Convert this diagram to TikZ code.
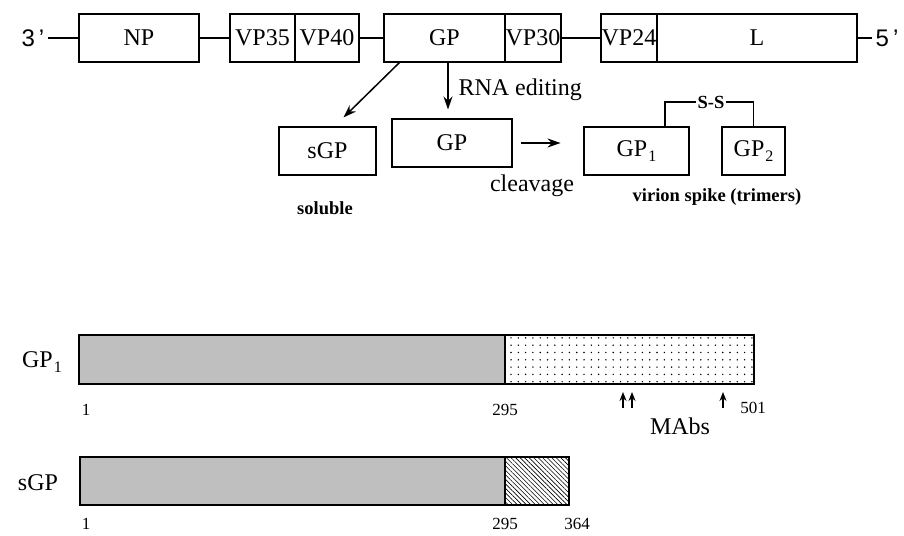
\documentclass[tikz,border=0pt]{standalone}
\usepackage{fontspec}
\setmainfont{Liberation Serif}
\newfontfamily\arialfont{Liberation Sans}
\usetikzlibrary{calc, positioning, arrows.meta, patterns.meta}

\newcommand{\bigtxt}{\fontsize{24}{26}\selectfont}
\newcommand{\midtxt}{\fontsize{18.5}{20}\selectfont}
\newcommand{\numtxt}{\fontsize{17}{19}\selectfont}
\newcommand{\sub}[1]{\raisebox{-0.45ex}{\fontsize{16}{18}\selectfont\kern1pt#1}}

\tikzset{
  gene/.style={draw, line width=1.1pt, minimum height=48pt, inner sep=0pt, font=\bigtxt},
  link/.style={line width=1.1pt},
  arr/.style={-{Stealth[length=13pt, width=9pt]}, line width=1.5pt},
  mab/.style={-{Stealth[length=9pt, width=7pt]}, line width=1.3pt},
  bar/.style={draw, line width=1.1pt},
}

\begin{document}
\begin{tikzpicture}[x=1pt, y=-1pt]
  \useasboundingbox (0,0) rectangle (904,535);

  % Genome order
  \node[font=\arialfont\bigtxt] (three) at (33,38) {3\,’};
  \node[gene, minimum width=120pt] (np) at (139,38) {NP};
  \node[gene, minimum width=65pt] (vpa) at (262.5,38) {VP35};
  \node[gene, minimum width=64pt] (vpb) at (327,38) {VP40};
  \node[gene, minimum width=121pt] (gp) at (444.5,38) {GP};
  \node[gene, minimum width=56pt] (vpc) at (533,38) {VP30};
  \node[gene, minimum width=56pt] (vpd) at (629,38) {VP24};
  \node[gene, minimum width=200pt] (lpol) at (757,38) {L};
  \node[font=\arialfont\bigtxt] (five) at (887,38) {5\,’};

  \draw[link] (three.east) -- (np.west);
  \draw[link] (np.east) -- (vpa.west);
  \draw[link] (vpb.east) -- (gp.west);
  \draw[link] (vpc.east) -- (vpd.west);
  \draw[link] (lpol.east) -- (five.west);

  % Products of the GP gene
  \node[gene, minimum width=97pt] (sgp) at (327.5,151) {sGP};
  \node[gene, minimum width=120pt] (gpm) at (452,143) {GP};
  \node[gene, minimum width=105pt] (gpa) at (636.5,151) {GP\sub{1}};
  \node[gene, minimum width=63pt] (gpb) at (753.5,151) {GP\sub{2}};

  \draw[arr] ([xshift=16pt]gp.south west) -- ([xshift=16pt, yshift=9pt]sgp.north);
  \draw[arr] ([xshift=-4pt]gpm.north |- gp.south) -- ([xshift=-4pt, yshift=9pt]gpm.north);
  \node[anchor=west, font=\bigtxt] (edit) at (455,90) {RNA editing};

  \draw[arr] ([xshift=8pt]gpm.east) -- ([xshift=48pt]gpm.east);
  \node[font=\bigtxt] (cleave) at (532,186) {cleavage};

  % Disulfide link between the subunits
  \node[font=\midtxt\bfseries, inner sep=1pt] (ss) at (711,102) {S-S};
  \draw[link] ([xshift=28.5pt]gpa.north) |- (ss.west);
  \draw[link] (ss.east) -| (gpb.north);

  \node[font=\midtxt\bfseries] (sol) at (325,208) {soluble};
  \node[font=\midtxt\bfseries] (spike) at (717,197) {virion spike (trimers)};

  % Protein bars
  \fill[gray!50] (79,335) rectangle (505,384);
  \fill[pattern={Dots[distance=7.3pt, radius=0.8pt]}] (505,335) rectangle (754,384);
  \draw[bar] (79,335) rectangle (754,384);
  \draw[bar] (505,335) -- (505,384);

  \fill[gray!50] (80,457) rectangle (505,505);
  \fill[pattern={Lines[angle=-45, distance=3.2pt, line width=0.6pt]}] (505,457) rectangle (569,505);
  \draw[bar] (80,457) rectangle (569,505);
  \draw[bar] (505,457) -- (505,505);

  \node[font=\bigtxt] (lgpa) at (42,362) {GP\sub{1}};
  \node[font=\bigtxt] (lsgp) at (38,483) {sGP};

  % Residue numbers
  \node[font=\numtxt] (na) at (86,410) {1};
  \node[font=\numtxt] (nb) at (505,410) {295};
  \node[font=\numtxt] (nc) at (753,408) {501};
  \node[font=\numtxt] (nd) at (86,524) {1};
  \node[font=\numtxt] (ne) at (505,524) {295};
  \node[font=\numtxt] (nf) at (577,524) {364};

  % Antibody epitopes
  \coordinate (ea) at (623,392);
  \coordinate (eb) at (632,392);
  \coordinate (ec) at (723,392);
  \draw[mab] (ea |- 0,408) -- (ea);
  \draw[mab] (eb |- 0,408) -- (eb);
  \draw[mab] (ec |- 0,408) -- (ec);
  \node[font=\bigtxt] (mabs) at (680,426) {MAbs};
\end{tikzpicture}
\end{document}
